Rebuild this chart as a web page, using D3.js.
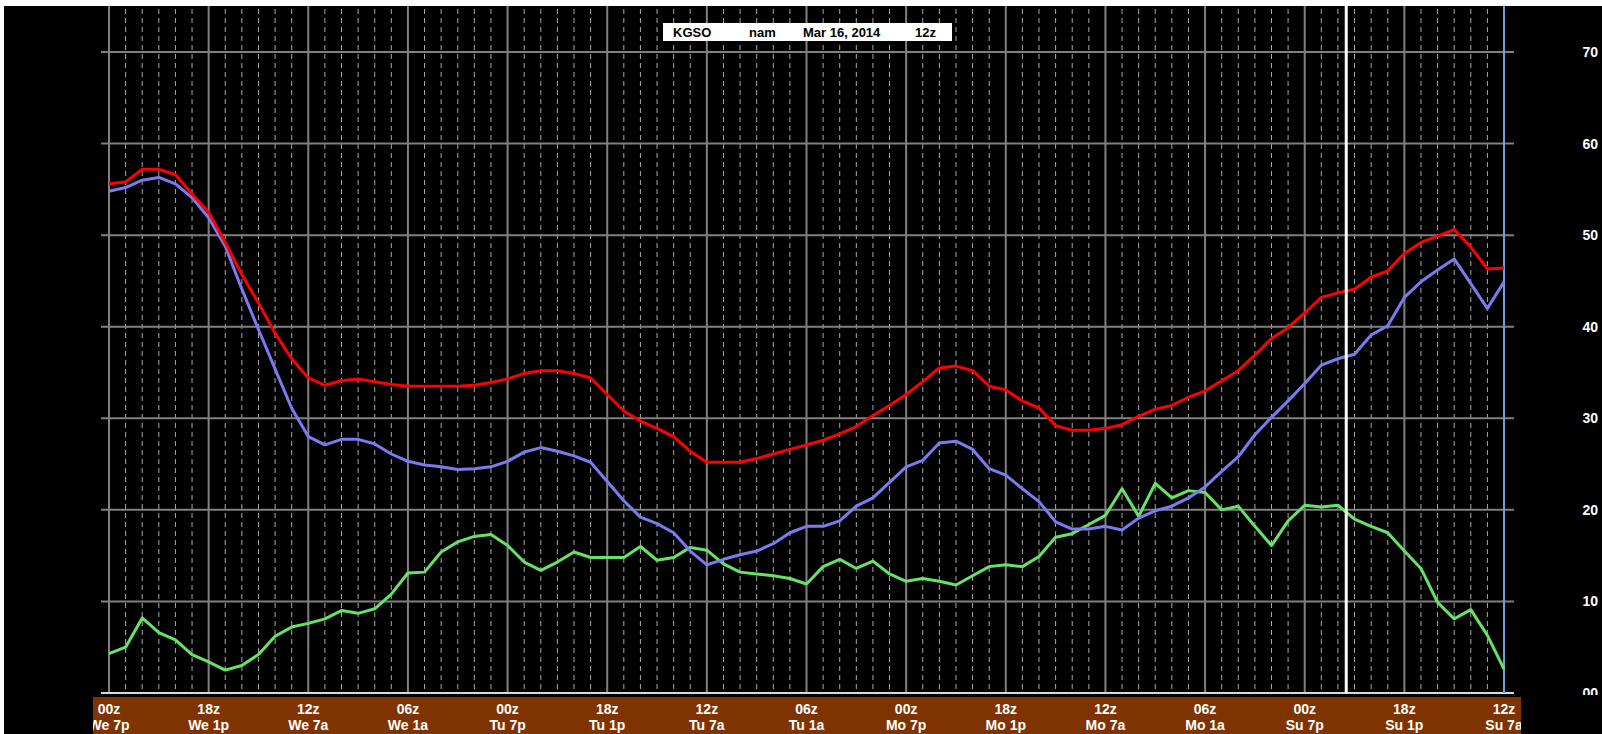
<!DOCTYPE html>
<html>
<head>
<meta charset="utf-8">
<script src="https://cdn.jsdelivr.net/npm/d3@7"></script>
<style>
    html, body { margin: 0; padding: 0; background: #000; overflow: hidden; }
    svg { display: block; }
    text { font-family: "Liberation Sans", Arial, sans-serif; font-weight: bold; }
</style>
</head>
<body>
<svg id="chart" width="1602" height="734"></svg>
<script>
// hours from the left edge of the plot (time runs backwards, left = latest)
const hours = d3.range(0, 85);

// temperature (red), dewpoint (blue), wind (green), one value per hour
const temperature = [
    55.6, 55.8, 57.2, 57.2, 56.6, 54.5, 52.5, 49.2, 45.7, 42.6, 39.3, 36.5, 34.4, 33.6, 34.1, 34.3, 34.0, 33.7, 33.5, 33.5, 33.5, 33.5,
    33.6, 33.9, 34.3, 34.9, 35.2, 35.2, 34.9, 34.4, 32.6, 30.8, 29.7, 28.9, 28.0, 26.4, 25.2, 25.2, 25.2, 25.6, 26.1, 26.6, 27.1,
    27.6, 28.3, 29.1, 30.3, 31.4, 32.6, 34.0, 35.5, 35.7, 35.2, 33.5, 33.1, 31.9, 31.1, 29.2, 28.7, 28.7, 28.9, 29.3, 30.2, 31.0,
    31.4, 32.3, 33.0, 34.1, 35.2, 36.9, 38.7, 39.9, 41.5, 43.2, 43.7, 44.1, 45.4, 46.1, 48.0, 49.2, 49.9, 50.6, 48.7, 46.3, 46.4
];
const dewpoint = [
    54.8, 55.2, 56.0, 56.3, 55.6, 54.1, 51.9, 48.8, 44.1, 39.7, 35.4, 31.1, 28.0, 27.1, 27.7, 27.7, 27.2, 26.1, 25.3, 24.9, 24.7, 24.4,
    24.5, 24.7, 25.3, 26.3, 26.8, 26.4, 25.9, 25.2, 23.1, 21.0, 19.2, 18.5, 17.5, 15.5, 14.0, 14.6, 15.1, 15.5, 16.3, 17.5, 18.2,
    18.2, 18.8, 20.4, 21.3, 23.0, 24.7, 25.4, 27.3, 27.5, 26.6, 24.5, 23.8, 22.3, 20.9, 18.7, 17.9, 17.9, 18.2, 17.8, 19.1, 19.9,
    20.4, 21.3, 22.5, 24.2, 25.8, 28.2, 30.1, 31.9, 33.8, 35.8, 36.5, 37.0, 39.1, 40.1, 43.2, 44.9, 46.2, 47.4, 44.7, 42.0, 44.9
];
const wind = [
    4.3, 5.0, 8.2, 6.6, 5.8, 4.2, 3.4, 2.5, 3.0, 4.2, 6.2, 7.2, 7.6, 8.1, 9.0, 8.7, 9.2, 10.8, 13.1, 13.2, 15.4, 16.5,
    17.1, 17.3, 16.1, 14.3, 13.4, 14.3, 15.4, 14.8, 14.8, 14.8, 16.0, 14.5, 14.8, 15.9, 15.6, 14.1, 13.2, 13.0, 12.8, 12.5, 11.9,
    13.8, 14.6, 13.6, 14.4, 13.0, 12.2, 12.5, 12.2, 11.8, 12.8, 13.8, 14.0, 13.8, 14.9, 17.0, 17.4, 18.4, 19.4, 22.3, 19.3, 22.9,
    21.3, 22.1, 21.9, 20.0, 20.4, 18.2, 16.1, 18.8, 20.5, 20.3, 20.5, 19.0, 18.2, 17.5, 15.5, 13.6, 9.9, 8.1, 9.1, 6.3, 2.6
];

// bottom labels every 6 hours
const zuluLabels = ["00z", "18z", "12z", "06z", "00z", "18z", "12z", "06z", "00z", "18z", "12z", "06z", "00z", "18z", "12z"];
const localLabels = ["We 7p", "We 1p", "We 7a", "We 1a", "Tu 7p", "Tu 1p", "Tu 7a", "Tu 1a", "Mo 7p", "Mo 1p", "Mo 7a", "Mo 1a", "Su 7p", "Su 1p", "Su 7a"];
const yTicks = [0, 10, 20, 30, 40, 50, 60, 70];
const titleParts = ["KGSO", "nam", "Mar 16, 2014", "12z"];
const nowHour = 74.5;

const svg = d3.select("#chart");
const x = d3.scaleLinear().domain([0, 84]).range([109, 1504]);
const y = d3.scaleLinear().domain([0, 70]).range([693, 52]);

svg.append("rect").attr("width", 1602).attr("height", 734).attr("fill", "#000");

// grille verticale : pointillés chaque heure, traits pleins toutes les 6h
const grid = svg.append("g");
grid.selectAll("line.hour")
    .data(hours.filter(h => h % 6 !== 0))
    .enter().append("line")
    .attr("x1", d => x(d)).attr("x2", d => x(d))
    .attr("y1", 0).attr("y2", y(0))
    .attr("stroke", "#a8a8a8").attr("stroke-width", 1)
    .attr("stroke-dasharray", "5,4");
grid.selectAll("line.six")
    .data(hours.filter(h => h % 6 === 0))
    .enter().append("line")
    .attr("x1", d => x(d)).attr("x2", d => x(d))
    .attr("y1", 0).attr("y2", y(0))
    .attr("stroke", "#808080").attr("stroke-width", 2);
grid.selectAll("line.h")
    .data(yTicks)
    .enter().append("line")
    .attr("x1", 101).attr("x2", 1514)
    .attr("y1", d => y(d)).attr("y2", d => y(d))
    .attr("stroke", d => d === 0 ? "#d8d8d8" : "#808080")
    .attr("stroke-width", 2);

// right edge (blue) line
svg.append("line")
    .attr("x1", x(84)).attr("x2", x(84)).attr("y1", 0).attr("y2", y(0))
    .attr("stroke", "#6f9fd8").attr("stroke-width", 2);

// courbes
const line = d3.line().x((d, i) => x(hours[i])).y(d => y(d));
[[wind, "#66e266"], [dewpoint, "#7b7bf0"], [temperature, "#ff0000"]].forEach(([values, color]) => {
    svg.append("path")
        .datum(values)
        .attr("d", line)
        .attr("fill", "none")
        .attr("stroke", color)
        .attr("stroke-width", 3)
        .attr("stroke-linejoin", "round");
});

// current time marker
svg.append("line")
    .attr("x1", x(nowHour)).attr("x2", x(nowHour)).attr("y1", 0).attr("y2", y(0))
    .attr("stroke", "#fff").attr("stroke-width", 3);

// y labels on the right
svg.append("clipPath").attr("id", "yclip")
    .append("rect").attr("x", 1520).attr("y", 0).attr("width", 82).attr("height", 695);
svg.append("g").attr("clip-path", "url(#yclip)")
    .selectAll("text")
    .data(yTicks)
    .enter().append("text")
    .attr("x", 1598).attr("y", d => y(d)).attr("dy", "0.36em")
    .attr("text-anchor", "end")
    .attr("fill", "#fff").attr("font-size", 14)
    .text(d => d3.format("02d")(d));

// bande marron du bas
svg.append("rect").attr("x", 93).attr("y", 697).attr("width", 1428).attr("height", 37).attr("fill", "#7f3300");
svg.append("clipPath").attr("id", "xclip")
    .append("rect").attr("x", 93).attr("y", 697).attr("width", 1428).attr("height", 37);
const xl = svg.append("g").attr("clip-path", "url(#xclip)")
    .selectAll("text")
    .data(zuluLabels)
    .enter().append("text")
    .attr("text-anchor", "middle")
    .attr("fill", "#fff").attr("font-size", 14);
xl.append("tspan").attr("x", (d, i) => x(i * 6)).attr("y", 714).text(d => d);
xl.append("tspan").attr("x", (d, i) => x(i * 6)).attr("y", 730).text((d, i) => localLabels[i]);

// title box
svg.append("rect").attr("x", 663).attr("y", 23).attr("width", 289).attr("height", 18).attr("fill", "#fff");
const titleX = [673, 749, 803, 915];
svg.selectAll("text.title")
    .data(titleParts)
    .enter().append("text")
    .attr("x", (d, i) => titleX[i]).attr("y", 37)
    .attr("fill", "#000").attr("font-size", 13)
    .text(d => d);

// white border top/left seen in the screenshot
svg.append("rect").attr("width", 1602).attr("height", 6).attr("fill", "#fff");
svg.append("rect").attr("width", 4).attr("height", 734).attr("fill", "#fff");
</script>
</body>
</html>
